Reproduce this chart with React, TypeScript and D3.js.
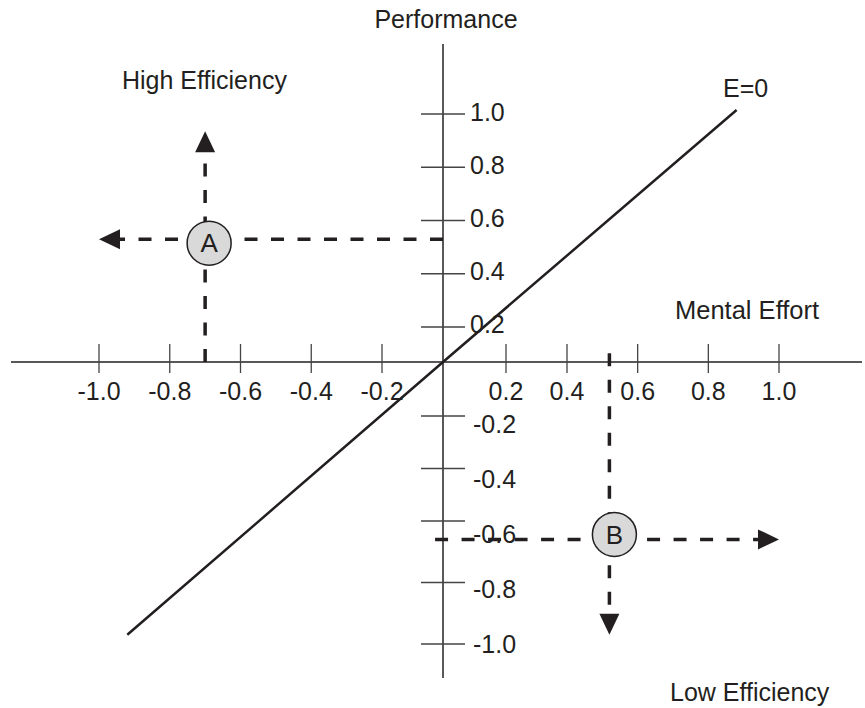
import React from "react";
import * as d3 from "d3";

// --- values
const xTicks = [-1.0, -0.8, -0.6, -0.4, -0.2, 0.2, 0.4, 0.6, 0.8, 1.0];
const yTicks = [1.0, 0.8, 0.6, 0.4, 0.2, -0.2, -0.4, -0.6, -0.8, -1.0];

// the hand-drawn axes are not evenly spaced, so the scales are piecewise
const xBreaks = [-1, -0.2, 0, 0.2, 0.4, 1];
const yBreaks = [1, 0.2, 0, -0.2, -0.6, -1];
const yLabelBreaks = [1, 0.2, -0.2, -1];

// E = 0 diagonal
const zeroLine: [number, number][] = [
  [-0.92, -0.97],
  [0, 0],
  [0.88, 1.015],
];

// the two example points and where their arrows end
const points = [
  { name: "A", x: -0.7, y: 0.53, hFrom: 0, hTo: -1.0, vFrom: 0, vTo: 0.935 },
  { name: "B", x: 0.52, y: -0.66, hFrom: -0.026, hTo: 1.0, vFrom: 0.05, vTo: -0.97 },
];

// --- layout
const W = 865;
const H = 708;
const FONT = "'Liberation Sans', Arial, sans-serif";
const INK = "#231f20";

const xRange = [99, 382, 443, 506, 567, 779];
const yRange = [114, 327, 362, 416, 521, 644];
const yLabelRange = [112, 324, 424, 644];
const circleNudge: Record<string, [number, number]> = { A: [4, 4], B: [5, -5] };

const x = d3.scaleLinear().domain(xBreaks).range(xRange);
const y = d3.scaleLinear().domain(yBreaks).range(yRange);
const yLab = d3.scaleLinear().domain(yLabelBreaks).range(yLabelRange);

const ARROW_LEN = 21;
const ARROW_HALF = 10;

function arrowHead(tx: number, ty: number, dir: "left" | "right" | "up" | "down") {
  const L = ARROW_LEN;
  const h = ARROW_HALF;
  switch (dir) {
    case "left":
      return `M${tx},${ty}L${tx + L},${ty - h}L${tx + L},${ty + h}Z`;
    case "right":
      return `M${tx},${ty}L${tx - L},${ty - h}L${tx - L},${ty + h}Z`;
    case "up":
      return `M${tx},${ty}L${tx - h},${ty + L}L${tx + h},${ty + L}Z`;
    default:
      return `M${tx},${ty}L${tx - h},${ty - L}L${tx + h},${ty - L}Z`;
  }
}

// plain hyphen for negatives, like the original
const fmt = (v: number) => d3.format(".1f")(v).replace("\u2212", "-");

export default function App() {
  const x0 = x(0);
  const y0 = y(0);
  const line = d3
    .line<[number, number]>()
    .x((d) => x(d[0]))
    .y((d) => y(d[1]));

  return (
    <svg
      width={W}
      height={H}
      style={{ position: "absolute", left: 0, top: 0, background: "#fff" }}
      fontFamily={FONT}
    >
      {/* axes */}
      <line x1={11} x2={862} y1={y0} y2={y0} stroke={INK} strokeWidth={1.5} />
      <line x1={x0} x2={x0} y1={44} y2={678} stroke={INK} strokeWidth={1.5} />

      {/* x ticks */}
      {xTicks.map((v) => (
        <g key={`x${v}`}>
          <line
            x1={x(v)}
            x2={x(v)}
            y1={y0 - 18}
            y2={y0 + 11}
            stroke="#444"
            strokeWidth={1.3}
          />
          <text x={x(v)} y={400} textAnchor="middle" fontSize={25} fill={INK}>
            {fmt(v)}
          </text>
        </g>
      ))}

      {/* y ticks */}
      {yTicks.map((v) => (
        <g key={`y${v}`}>
          <line
            x1={x0 - 22}
            x2={x0 + 22}
            y1={y(v)}
            y2={y(v)}
            stroke="#444"
            strokeWidth={1.3}
          />
          <text
            x={v > 0 ? 470 : 473}
            y={yLab(v)}
            dy="0.36em"
            fontSize={25}
            fill={INK}
          >
            {fmt(v)}
          </text>
        </g>
      ))}

      {/* E = 0 line */}
      <path d={line(zeroLine) ?? ""} fill="none" stroke={INK} strokeWidth={2.5} />

      {/* points with dashed arrows */}
      {points.map((p) => {
        const px = x(p.x);
        const py = y(p.y);
        const hFrom = x(p.hFrom);
        const hTo = x(p.hTo);
        const vFrom = y(p.vFrom);
        const vTo = y(p.vTo);
        const hDir = hTo < px ? "left" : "right";
        const vDir = vTo < py ? "up" : "down";
        const hBase = hTo + (hDir === "left" ? ARROW_LEN : -ARROW_LEN);
        const vBase = vTo + (vDir === "up" ? ARROW_LEN : -ARROW_LEN);
        const [dx, dy] = circleNudge[p.name] ?? [0, 0];
        return (
          <g key={p.name}>
            <line
              x1={hFrom}
              x2={hBase}
              y1={py}
              y2={py}
              stroke={INK}
              strokeWidth={3.5}
              strokeDasharray="13 13.5"
            />
            <line
              x1={px}
              x2={px}
              y1={vFrom}
              y2={vBase}
              stroke={INK}
              strokeWidth={3.5}
              strokeDasharray="13 13.5"
            />
            <path d={arrowHead(hTo, py, hDir)} fill={INK} />
            <path d={arrowHead(px, vTo, vDir)} fill={INK} />
            <circle
              cx={px + dx}
              cy={py + dy}
              r={22}
              fill="#d9d9da"
              stroke={INK}
              strokeWidth={1.5}
            />
            <text
              x={px + dx}
              y={py + dy}
              dy="0.36em"
              textAnchor="middle"
              fontSize={26}
              fill={INK}
            >
              {p.name}
            </text>
          </g>
        );
      })}

      {/* labels */}
      <text x={446} y={28} textAnchor="middle" fontSize={25} fill={INK}>
        Performance
      </text>
      <text x={122} y={89} fontSize={25} fill={INK}>
        High Efficiency
      </text>
      <text x={675} y={319} fontSize={25.5} fill={INK}>
        Mental Effort
      </text>
      <text x={670} y={701} fontSize={25} fill={INK}>
        Low Efficiency
      </text>
      <text x={723} y={97} fontSize={25} fill={INK}>
        E=0
      </text>
    </svg>
  );
}
